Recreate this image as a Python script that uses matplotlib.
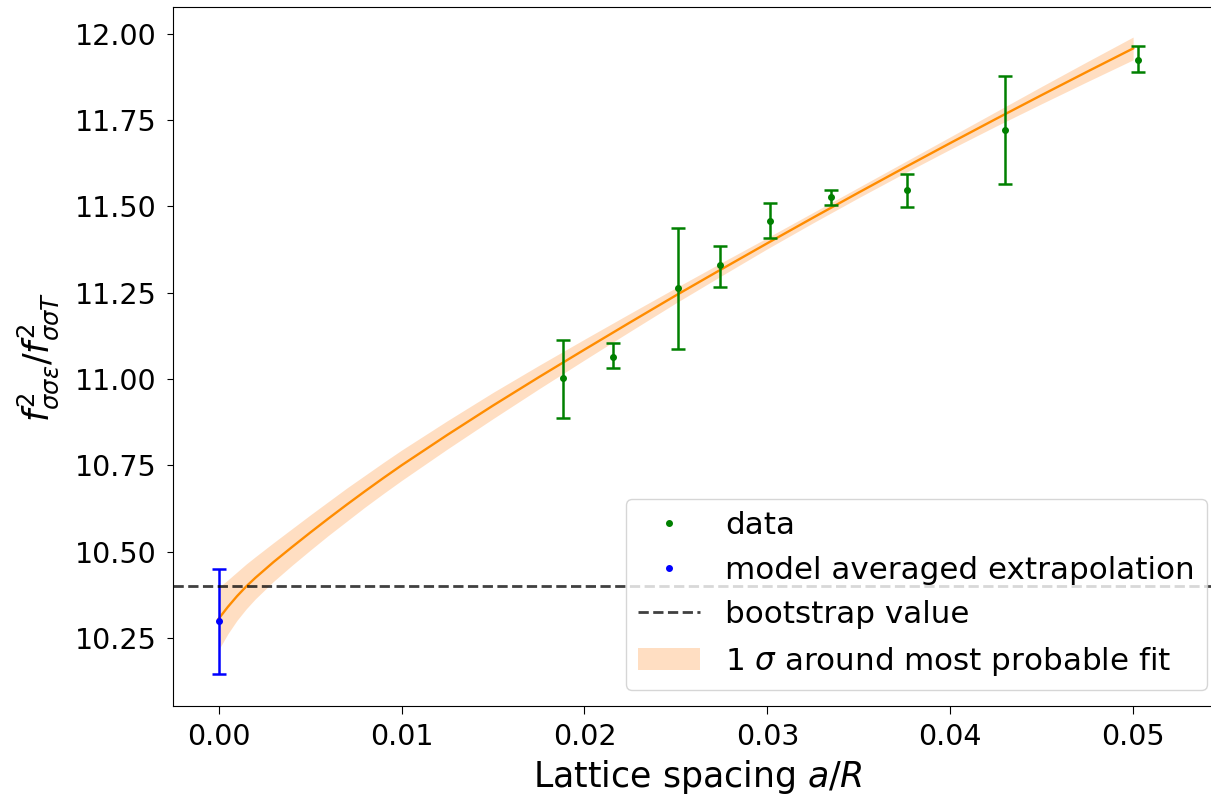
import numpy as np
import matplotlib.pyplot as plt

# data points (lattice spacing, value, error bar low/high)
a_data = [0.0188, 0.02155, 0.02512, 0.02743, 0.03013, 0.0335, 0.03763, 0.0430, 0.05024]
y_data = [11.004, 11.065, 11.262, 11.330, 11.458, 11.526, 11.547, 11.722, 11.924]
y_lo = [10.887, 11.032, 11.088, 11.267, 11.407, 11.504, 11.499, 11.565, 11.890]
y_hi = [11.114, 11.104, 11.436, 11.386, 11.510, 11.548, 11.594, 11.878, 11.963]

# model averaged extrapolation at a=0
a_extrap = [0.0]
y_extrap = [10.300]
extrap_lo = [10.145]
extrap_hi = [10.450]

bootstrap = 10.40

# most probable fit curve and its 1 sigma half width
a_fit = [0.0, 0.0005, 0.001, 0.0015, 0.002, 0.003, 0.004, 0.005, 0.006, 0.007,
         0.008, 0.009, 0.010, 0.0125, 0.015, 0.0175, 0.020, 0.0225, 0.025,
         0.0275, 0.030, 0.0325, 0.035, 0.0375, 0.040, 0.0425, 0.045, 0.0475, 0.050]
y_fit = [10.306, 10.340, 10.371, 10.399, 10.424, 10.470, 10.513, 10.555, 10.596, 10.636,
         10.675, 10.713, 10.750, 10.838, 10.923, 11.005, 11.085, 11.164, 11.242,
         11.318, 11.393, 11.467, 11.540, 11.612, 11.683, 11.753, 11.822, 11.890, 11.957]
fit_err = [0.090, 0.078, 0.070, 0.065, 0.061, 0.056, 0.053, 0.051, 0.049, 0.048,
           0.046, 0.045, 0.044, 0.041, 0.038, 0.034, 0.030, 0.026, 0.022,
           0.019, 0.016, 0.015, 0.015, 0.016, 0.018, 0.021, 0.025, 0.029, 0.033]

fig = plt.figure(figsize=(12.11, 7.95), dpi=100)
ax = fig.add_axes([173/1211, 1 - 706/795, (1222 - 173)/1211, (706 - 7)/795])

y_fit = np.array(y_fit)
fit_err = np.array(fit_err)
ax.fill_between(a_fit, y_fit - fit_err, y_fit + fit_err, color='#ff7f0e', alpha=0.25,
                linewidth=0, label=r'1 $\sigma$ around most probable fit')
ax.plot(a_fit, y_fit, color='#ff8c00', linewidth=1.7)

yd = np.array(y_data)
ax.errorbar(a_data, y_data, yerr=[yd - np.array(y_lo), np.array(y_hi) - yd],
            fmt='none', ecolor='green', elinewidth=1.8, capsize=5, capthick=1.8)
ax.plot(a_data, y_data, '.', color='green', markersize=8, label='data')
ye = np.array(y_extrap)
ax.errorbar(a_extrap, y_extrap, yerr=[ye - np.array(extrap_lo), np.array(extrap_hi) - ye],
            fmt='none', ecolor='blue', elinewidth=1.8, capsize=5, capthick=1.8)
ax.plot(a_extrap, y_extrap, '.', color='blue', markersize=8,
        label='model averaged extrapolation')
ax.axhline(bootstrap, color='black', linestyle='--', linewidth=2, alpha=0.75,
           label='bootstrap value')

ax.set_xlim(-0.0025, 0.05486)
ax.set_ylim(10.053, 12.077)
ax.set_xticks([0.0, 0.01, 0.02, 0.03, 0.04, 0.05])
ax.set_yticks([10.25, 10.5, 10.75, 11.0, 11.25, 11.5, 11.75, 12.0])
ax.tick_params(labelsize=20.5)
ax.tick_params(axis='x', length=5.5, pad=7)
ax.tick_params(axis='y', length=4, pad=8)

ax.set_xlabel('Lattice spacing $a/R$', fontsize=25, labelpad=5)
ax.set_ylabel(r'$f^2_{\sigma\sigma\varepsilon}/f^2_{\sigma\sigma T}$', fontsize=25, labelpad=10)

h, l = ax.get_legend_handles_labels()
want = ['data', 'model averaged extrapolation', 'bootstrap value',
        r'1 $\sigma$ around most probable fit']
hs = [h[l.index(w)] for w in want]
ax.legend(hs, want, fontsize=22.3,
          loc='lower right', bbox_to_anchor=(1207/1211, 1 - 690/795),
          bbox_transform=fig.transFigure, borderaxespad=0)

plt.savefig('out.png', dpi=100)
